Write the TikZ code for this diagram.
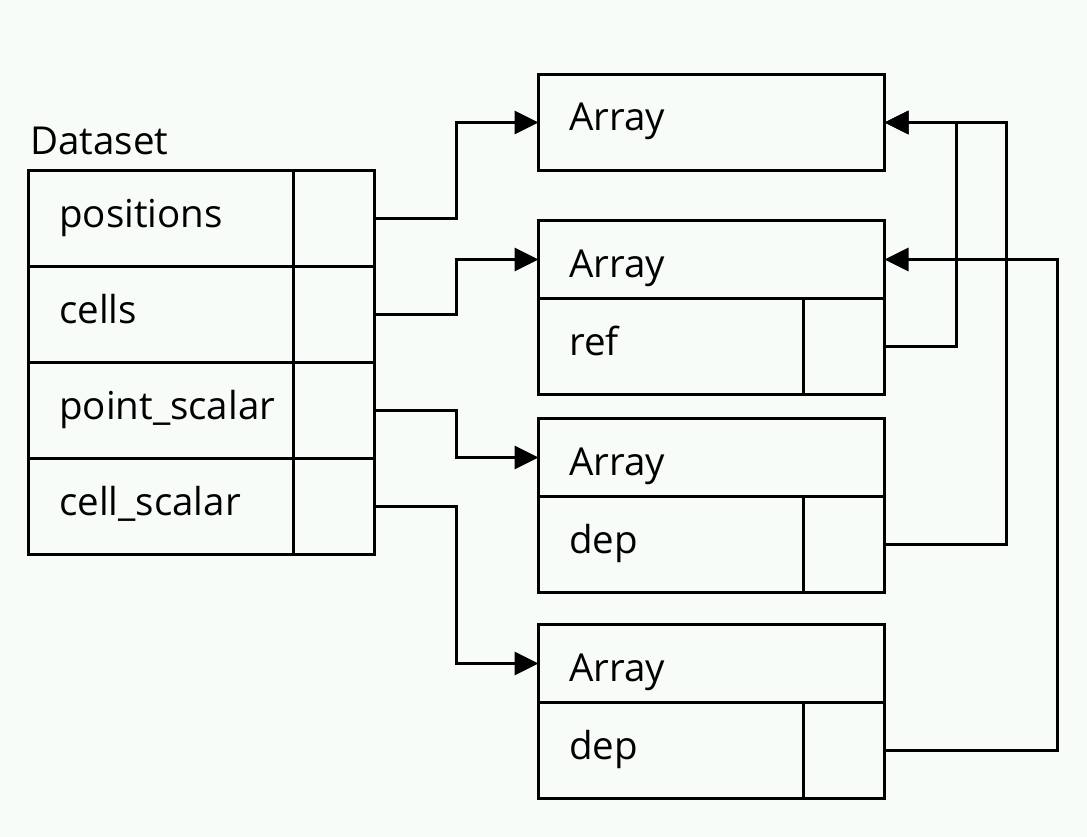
\documentclass[tikz,border=0pt]{standalone}
\usepackage{fontspec}
\setmainfont{Open Sans}
\usetikzlibrary{arrows.meta}
\definecolor{bgc}{RGB}{247,252,249}
\begin{document}
\begin{tikzpicture}[x=1pt,y=-1pt,
  cell/.style={draw=black,line width=3pt,anchor=north west,inner sep=0pt,outer sep=0pt},
  lbl/.style={anchor=base west,inner sep=0pt,font=\fontsize{38.5}{46}\selectfont},
  conn/.style={line width=3pt,-{Triangle[length=24pt,width=23pt]}}]
\useasboundingbox[fill=bgc] (0,0) rectangle (1087,837);
% Dataset
\node[lbl] (dstitle) at (30,155) {Dataset};
\foreach \n/\y in {p/170.5,c/266.5,ps/362.5,cs/458.5}{
  \node[cell,minimum width=265pt,minimum height=96pt] (\n l) at (28.5,\y) {};
  \node[cell,minimum width=81pt,minimum height=96pt] (\n) at (293.5,\y) {};
}
\node[lbl] (tp) at (59,228) {positions};
\node[lbl] (tc) at (59,323) {cells};
\node[lbl] (tps) at (59,419) {point\_scalar};
\node[lbl] (tcs) at (59,515) {cell\_scalar};
% Arrays
\node[cell,minimum width=346pt,minimum height=96pt] (a1) at (538.5,74.5) {};
\node[lbl] (ta1) at (569,131) {Array};
\foreach \n/\t/\f in {a2/220.5/ref,a3/418.5/dep,a4/624.5/dep}{
  \node[cell,minimum width=346pt,minimum height=78pt] (\n) at (538.5,\t) {};
  \node[cell,minimum width=265pt,minimum height=96pt] (\n f) at (\n.south west) {};
  \node[cell,minimum width=81pt,minimum height=96pt] (\n p) at (\n f.north east) {};
  \node[lbl] (t\n) at ([xshift=30.5pt,yshift=-57pt]\n.north west) {Array};
  \node[lbl] (t\n f) at ([xshift=30.5pt,yshift=-57pt]\n f.north west) {\f};
}
% connectors
\draw[conn] (p.east) -- ([xshift=82pt]p.east) |- (a1.west);
\draw[conn] (c.east) -- ([xshift=82pt]c.east) |- (a2.west);
\draw[conn] (ps.east) -- ([xshift=82pt]ps.east) |- (a3.west);
\draw[conn] (cs.east) -- ([xshift=82pt]cs.east) |- (a4.west);
\draw[conn] (a2p.east) -- ([xshift=72pt]a2p.east) |- (a1.east);
\draw[conn] (a3p.east) -- ([xshift=122pt]a3p.east) |- (a1.east);
\draw[conn] (a4p.east) -- ([xshift=173pt]a4p.east) |- (a2.east);
\end{tikzpicture}
\end{document}
